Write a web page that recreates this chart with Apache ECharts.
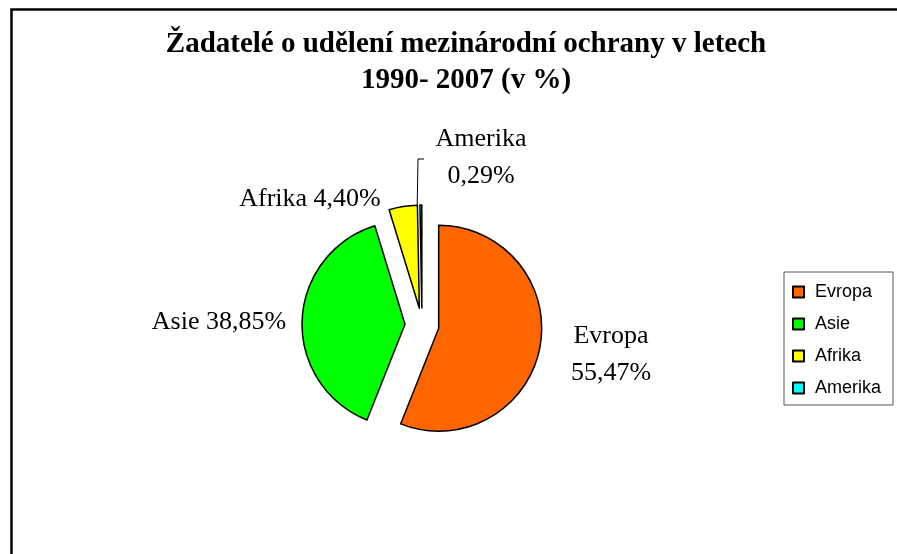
<!DOCTYPE html>
<html>
<head>
<meta charset="utf-8">
<script src="https://cdn.jsdelivr.net/npm/echarts@6/dist/echarts.min.js"></script>
<style>
  html, body { margin: 0; padding: 0; background: #fff; }
  #main { width: 897px; height: 554px; }
</style>
</head>
<body>
<div id="main"></div>
<script>
// data
var regions = ['Evropa', 'Asie', 'Afrika', 'Amerika'];
var shares = [55.47, 38.85, 4.40, 0.29];
var colors = ['#FF6600', '#00FF00', '#FFFF00', '#00FFFF'];
var twoLineLabel = [true, false, false, true];

// where each data label sits (Excel placed them by hand)
var labelPos = [[611, 355], [219, 322], [310, 199], [481, 158]];

function fmt(v) {
  return v.toFixed(2).replace('.', ',') + '%';
}

var pieData = regions.map(function (name, i) {
  return {
    name: name,
    value: shares[i],
    selected: true,
    itemStyle: { color: colors[i] }
  };
});

// data labels as plain text, built from the arrays above
var labelGraphics = regions.map(function (name, i) {
  return {
    type: 'text',
    silent: true,
    style: {
      x: labelPos[i][0],
      y: labelPos[i][1],
      text: name + (twoLineLabel[i] ? '\n' : ' ') + fmt(shares[i]),
      fill: '#000',
      font: '26px "Liberation Serif"',
      lineHeight: 37,
      align: 'center',
      verticalAlign: 'middle'
    }
  };
});

var myChart = echarts.init(document.getElementById('main'));
var option = {
  backgroundColor: '#fff',
  animation: false,
  title: {
    text: 'Žadatelé o udělení mezinárodní ochrany v letech\n1990- 2007 (v %)',
    left: 461,
    top: 22,
    textAlign: 'center',
    textStyle: {
      fontFamily: 'Liberation Serif',
      fontWeight: 'bold',
      fontSize: 29,
      lineHeight: 36,
      color: '#000'
    }
  },
  legend: {
    orient: 'vertical',
    left: 784,
    top: 272,
    data: regions,
    icon: 'rect',
    itemWidth: 11,
    itemHeight: 11,
    itemGap: 14,
    padding: [11, 12, 8, 8],
    borderColor: '#555',
    borderWidth: 1,
    selectedMode: false,
    textStyle: {
      fontFamily: 'Liberation Sans',
      fontSize: 18,
      lineHeight: 18,
      color: '#000',
      padding: [0, 0, 0, 6]
    }
  },
  graphic: [{
    type: 'rect',
    left: 9,
    top: 7,
    shape: { width: 1000, height: 1000 },
    style: { fill: 'none', stroke: '#000', lineWidth: 2.5 },
    silent: true
  }, {
    // leader line for the thin Amerika slice
    type: 'polyline',
    silent: true,
    shape: { points: [[417, 215], [418, 159], [424, 159]] },
    style: { stroke: '#000', lineWidth: 1, fill: 'none' }
  }].concat(labelGraphics),
  series: [{
    type: 'pie',
    center: [422, 325],
    radius: 103,
    startAngle: 90,
    clockwise: true,
    selectedMode: 'multiple',
    selectedOffset: 17,
    silent: true,
    itemStyle: { borderColor: '#000', borderWidth: 1.5 },
    select: { itemStyle: { borderColor: '#000', borderWidth: 1.5 } },
    emphasis: { disabled: true },
    label: { show: false },
    labelLine: { show: false },
    data: pieData
  }]
};
myChart.setOption(option);
</script>
</body>
</html>
